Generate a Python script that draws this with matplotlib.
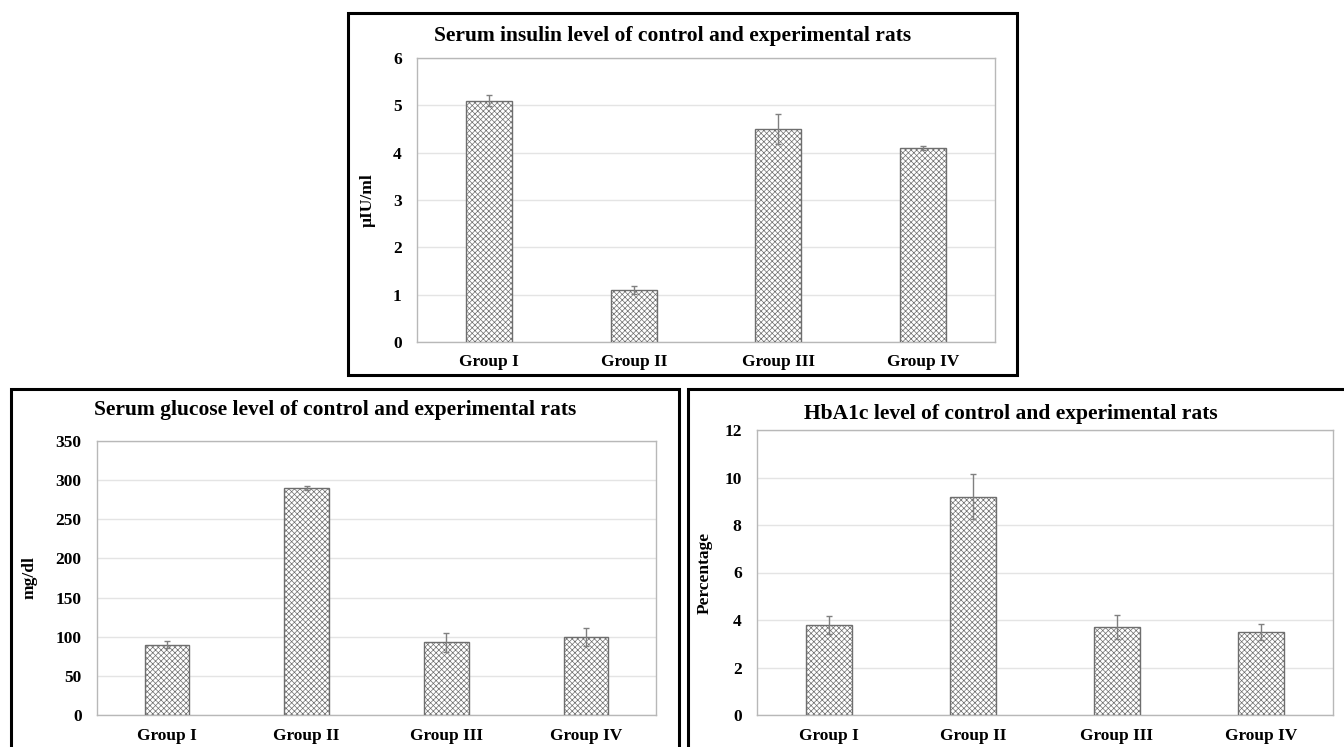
import matplotlib
matplotlib.use("Agg")
import matplotlib.pyplot as plt
from matplotlib.patches import Rectangle
import numpy as np

groups = ["Group I", "Group II", "Group III", "Group IV"]

insulin = [5.1, 1.1, 4.5, 4.1]
insulin_err = [0.12, 0.09, 0.32, 0.05]

glucose = [90, 290, 93, 100]
glucose_err = [4, 3, 12, 11.5]

hba1c = [3.8, 9.2, 3.7, 3.5]
hba1c_err = [0.38, 0.95, 0.5, 0.35]

plt.rcParams['font.family'] = ['Liberation Serif', 'DejaVu Serif']
plt.rcParams['font.weight'] = 'bold'
plt.rcParams['hatch.linewidth'] = 0.5
plt.rcParams['hatch.color'] = '#a8a8a8'

W, H = 1344, 747
fig = plt.figure(figsize=(W / 100, H / 100), dpi=100)


def px_axes(l, t, r, b):
    return fig.add_axes([l / W, 1 - b / H, (r - l) / W, (b - t) / H])


def draw(ax, vals, errs, ymax, step, ylabel, label_x):
    x = np.arange(len(groups))
    ax.bar(x, vals, width=0.32, color='white', edgecolor='#6e6e6e',
           linewidth=1.0, hatch='xxxxxx', zorder=3)
    ax.errorbar(x, vals, yerr=errs, fmt='none', ecolor='#808080',
                elinewidth=1.0, capsize=2.5, capthick=1.0, zorder=4)
    ax.set_xlim(-0.5, len(groups) - 0.5)
    ax.set_ylim(0, ymax)
    ax.set_yticks(np.arange(0, ymax + step / 2, step))
    ax.set_xticks(x)
    ax.set_xticklabels(groups)
    ax.yaxis.grid(True, color='#e4e4e4', linewidth=1.0, zorder=0)
    ax.set_axisbelow(True)
    for s in ax.spines.values():
        s.set_color('#b8b8b8')
        s.set_linewidth(1.0)
    ax.tick_params(axis='both', length=0, labelsize=12.5)
    ax.tick_params(axis='y', pad=11)
    ax.tick_params(axis='x', pad=9)
    for lab in ax.get_xticklabels() + ax.get_yticklabels():
        lab.set_fontweight('bold')
    ax.set_ylabel(ylabel, fontsize=12.5, fontweight='bold')
    ax.yaxis.set_label_coords(label_x, 0.5)
    ax.yaxis.label.set_va('center')


# top panel
ax1 = px_axes(417, 58, 995, 342)
draw(ax1, insulin, insulin_err, 6, 1, 'µIU/ml', -0.086)
fig.text(673 / W, 1 - 36 / H, 'Serum insulin level of control and experimental rats',
         ha='center', va='center', fontsize=15.5, fontweight='bold')

# bottom left
ax2 = px_axes(97, 441, 656, 715)
draw(ax2, glucose, glucose_err, 350, 50, 'mg/dl', -0.12)
fig.text(335 / W, 1 - 410 / H, 'Serum glucose level of control and experimental rats',
         ha='center', va='center', fontsize=15.5, fontweight='bold')

# bottom right
ax3 = px_axes(757, 430, 1333, 715)
draw(ax3, hba1c, hba1c_err, 12, 2, 'Percentage', -0.091)
fig.text(1011 / W, 1 - 414 / H, 'HbA1c level of control and experimental rats',
         ha='center', va='center', fontsize=15.5, fontweight='bold')

# panel borders
def border(l, t, r, b):
    fig.add_artist(Rectangle((l / W, 1 - b / H), (r - l) / W, (b - t) / H,
                             transform=fig.transFigure, fill=False,
                             edgecolor='black', linewidth=2.2, clip_on=False))

border(348, 13, 1017, 375)
border(11, 389, 679, 770)
border(688, 389, 1370, 770)

fig.savefig('out.png', dpi=100)
